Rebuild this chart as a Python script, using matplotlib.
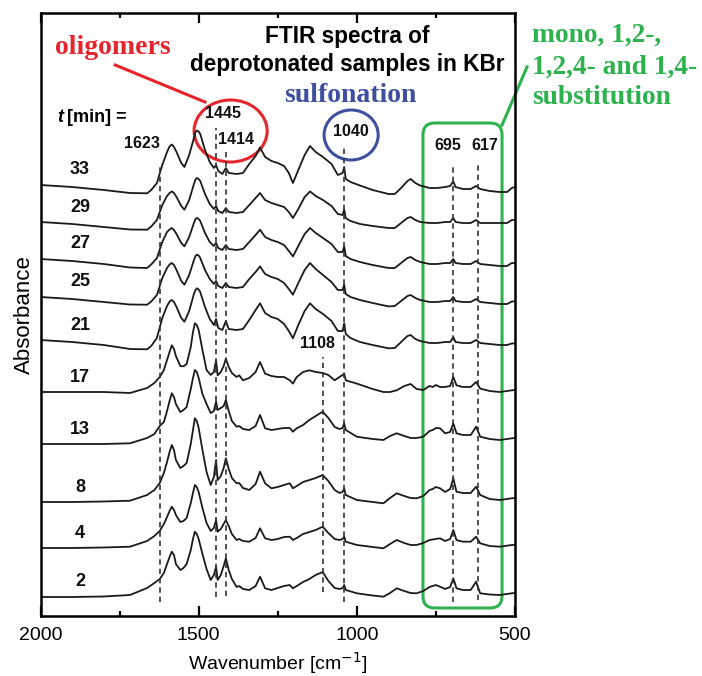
import matplotlib
matplotlib.use("Agg")
import matplotlib.pyplot as plt
from matplotlib.patches import Ellipse, FancyBboxPatch
from matplotlib.lines import Line2D

plt.rcParams['font.family'] = ['Liberation Sans', 'DejaVu Sans']

# ---------------- data ----------------
times = [33, 29, 27, 25, 21, 17, 13, 8, 4, 2]
offsets = [4.31, 3.94, 3.57, 3.19, 2.76, 2.24, 1.72, 1.14, 0.68, 0.19]

# wavenumber grid for the late-time spectra (33-21 min)
wn_late = [2000, 1900, 1800, 1717, 1663, 1650, 1632, 1615, 1600, 1592, 1585, 1578, 1570,
           1555, 1545, 1530, 1515, 1510, 1505, 1500, 1495, 1480, 1465, 1452, 1445, 1438,
           1425, 1414, 1405, 1380, 1360, 1340, 1320, 1306, 1290, 1270, 1250, 1230, 1215,
           1202, 1185, 1165, 1148, 1130, 1107, 1080, 1060, 1045, 1040, 1035, 1020, 990, 950,
           900, 880, 860, 840, 830, 815, 800, 770, 746, 720, 705, 695, 688, 665, 640, 623,
           610, 580, 548, 525, 510, 500]

abs_33 = [0, -0.02, -0.05, -0.08, -0.083, -0.05, 0.02, 0.20, 0.33, 0.385, 0.405, 0.38, 0.33,
          0.22, 0.18, 0.30, 0.47, 0.53, 0.545, 0.535, 0.51, 0.35, 0.23, 0.17, 0.20, 0.14,
          0.11, 0.17, 0.12, 0.11, 0.12, 0.21, 0.29, 0.375, 0.28, 0.24, 0.22, 0.19, 0.12,
          0.02, 0.15, 0.30, 0.39, 0.33, 0.28, 0.21, 0.10, 0.12, 0.18, 0.06, 0.03, -0.005,
          -0.05, -0.09, -0.09, -0.03, 0.04, 0.06, 0.02, -0.005, -0.03, -0.03, -0.02, -0.01,
          0.035, -0.02, -0.04, -0.04, -0.01, -0.04, -0.06, -0.07, -0.07, -0.03, -0.02]
abs_29 = [0, -0.02, -0.05, -0.075, -0.077, -0.045, 0.02, 0.17, 0.26, 0.29, 0.306, 0.29,
          0.25, 0.16, 0.123, 0.22, 0.38, 0.425, 0.44, 0.43, 0.41, 0.28, 0.18, 0.13, 0.16,
          0.11, 0.09, 0.14, 0.10, 0.09, 0.10, 0.17, 0.24, 0.29, 0.22, 0.19, 0.17, 0.15,
          0.10, 0.04, 0.13, 0.25, 0.306, 0.26, 0.22, 0.16, 0.08, 0.07, 0.123, 0.04, 0.01,
          -0.02, -0.04, -0.06, -0.06, -0.01, 0.04, 0.05, 0.02, 0.0, -0.01, -0.01, 0.0, 0.0,
          0.04, 0.0, -0.01, -0.01, 0.02, -0.01, -0.01, -0.01, -0.01, 0.02, 0.02]
abs_27 = [0, -0.02, -0.05, -0.085, -0.09, -0.055, 0.01, 0.17, 0.27, 0.295, 0.31, 0.29,
          0.25, 0.16, 0.126, 0.22, 0.36, 0.40, 0.41, 0.40, 0.38, 0.26, 0.17, 0.13, 0.16,
          0.11, 0.09, 0.14, 0.10, 0.09, 0.10, 0.17, 0.24, 0.293, 0.22, 0.19, 0.17, 0.14,
          0.08, 0.026, 0.13, 0.25, 0.31, 0.26, 0.21, 0.15, 0.07, 0.07, 0.126, 0.03, 0.0,
          -0.03, -0.06, -0.09, -0.09, -0.04, 0.01, 0.02, -0.01, -0.03, -0.05, -0.05, -0.04,
          -0.04, 0.0, -0.04, -0.05, -0.05, -0.02, -0.05, -0.06, -0.07, -0.07, -0.04, -0.04]
abs_25 = [0, -0.02, -0.05, -0.075, -0.077, -0.045, 0.02, 0.19, 0.29, 0.325, 0.34, 0.32,
          0.27, 0.16, 0.123, 0.22, 0.37, 0.41, 0.423, 0.415, 0.39, 0.27, 0.18, 0.13, 0.16,
          0.11, 0.09, 0.14, 0.10, 0.09, 0.10, 0.18, 0.25, 0.306, 0.23, 0.20, 0.18, 0.14,
          0.08, 0.023, 0.14, 0.27, 0.34, 0.28, 0.22, 0.15, 0.07, 0.07, 0.123, 0.03, 0.0,
          -0.03, -0.06, -0.094, -0.09, -0.04, 0.01, 0.02, -0.01, -0.03, -0.05, -0.05, -0.04,
          -0.04, 0.0, -0.04, -0.05, -0.05, -0.02, -0.05, -0.06, -0.07, -0.07, -0.045, -0.044]
abs_21 = [0, -0.02, -0.05, -0.09, -0.093, -0.06, 0.02, 0.22, 0.34, 0.385, 0.40, 0.38, 0.33,
          0.22, 0.183, 0.29, 0.46, 0.50, 0.517, 0.505, 0.48, 0.33, 0.21, 0.15, 0.21, 0.12,
          0.10, 0.19, 0.11, 0.10, 0.11, 0.20, 0.30, 0.367, 0.27, 0.23, 0.21, 0.16, 0.09,
          0.017, 0.15, 0.29, 0.367, 0.31, 0.26, 0.19, 0.09, 0.09, 0.167, 0.06, 0.02, -0.02,
          -0.05, -0.083, -0.08, -0.02, 0.04, 0.05, 0.01, -0.01, -0.03, -0.03, -0.02, -0.02,
          0.03, -0.02, -0.03, -0.03, 0.0, -0.03, -0.04, -0.05, -0.05, -0.035, -0.033]

# wavenumber grid for the early-time spectra (17-2 min)
wn_early = [2000, 1900, 1800, 1717, 1663, 1640, 1623, 1610, 1600, 1592, 1585, 1578, 1572,
            1558, 1548, 1538, 1525, 1518, 1512, 1506, 1500, 1488, 1475, 1462, 1452, 1445,
            1440, 1430, 1421, 1414, 1405, 1395, 1380, 1372, 1360, 1340, 1320, 1306, 1290,
            1270, 1250, 1230, 1212, 1202, 1190, 1170, 1150, 1130, 1108, 1090, 1070, 1055,
            1045, 1040, 1035, 1000, 950, 916, 895, 874, 850, 830, 811, 790, 770, 760, 750,
            737, 721, 705, 695, 685, 665, 640, 623, 610, 580, 548, 510, 500]

abs_17 = [0, 0, 0, -0.01, 0.04, 0.09, 0.15, 0.22, 0.32, 0.40, 0.467, 0.43, 0.36, 0.26,
          0.257, 0.28, 0.45, 0.60, 0.687, 0.67, 0.62, 0.42, 0.22, 0.17, 0.20, 0.317, 0.167,
          0.20, 0.26, 0.333, 0.25, 0.19, 0.15, 0.167, 0.117, 0.14, 0.20, 0.30, 0.184, 0.16,
          0.15, 0.15, 0.117, 0.084, 0.15, 0.20, 0.217, 0.20, 0.19, 0.17, 0.117, 0.15, 0.17,
          0.184, 0.117, 0.084, 0.03, 0.0, 0.0, 0.017, 0.06, 0.08, 0.03, 0.02, 0.06, 0.05,
          0.07, 0.05, 0.05, 0.06, 0.15, 0.067, 0.05, 0.05, 0.10, 0.034, 0.01, 0.0, 0.017,
          0.02]
abs_13 = [0, 0, 0, 0.007, 0.06, 0.10, 0.18, 0.22, 0.33, 0.43, 0.507, 0.47, 0.40, 0.32,
          0.34, 0.37, 0.55, 0.66, 0.74, 0.72, 0.66, 0.50, 0.40, 0.31, 0.33, 0.423, 0.34,
          0.36, 0.38, 0.44, 0.33, 0.23, 0.173, 0.18, 0.15, 0.14, 0.18, 0.29, 0.157, 0.14,
          0.15, 0.16, 0.16, 0.123, 0.157, 0.19, 0.24, 0.28, 0.323, 0.26, 0.17, 0.15, 0.16,
          0.207, 0.14, 0.073, 0.05, 0.04, 0.08, 0.107, 0.08, 0.06, 0.06, 0.073, 0.13, 0.14,
          0.16, 0.157, 0.107, 0.12, 0.207, 0.107, 0.09, 0.09, 0.173, 0.073, 0.05, 0.04,
          0.057, 0.06]
abs_8 = [0, 0, 0.005, 0.013, 0.07, 0.12, 0.19, 0.29, 0.40, 0.50, 0.57, 0.52, 0.42, 0.34,
         0.36, 0.39, 0.58, 0.72, 0.837, 0.81, 0.74, 0.52, 0.30, 0.17, 0.25, 0.42, 0.22, 0.26,
         0.34, 0.437, 0.33, 0.24, 0.187, 0.19, 0.14, 0.12, 0.18, 0.303, 0.187, 0.137, 0.15,
         0.17, 0.187, 0.137, 0.16, 0.20, 0.22, 0.24, 0.27, 0.21, 0.12, 0.09, 0.10, 0.137,
         0.07, 0.02, 0.0, -0.013, 0.04, 0.087, 0.06, 0.04, 0.037, 0.06, 0.12, 0.13, 0.15,
         0.137, 0.10, 0.13, 0.237, 0.103, 0.09, 0.09, 0.153, 0.07, 0.03, 0.02, 0.037, 0.04]
abs_4 = [0, 0, 0.005, 0.013, 0.07, 0.12, 0.17, 0.24, 0.31, 0.37, 0.413, 0.38, 0.33, 0.26,
         0.27, 0.30, 0.45, 0.55, 0.63, 0.61, 0.56, 0.40, 0.25, 0.17, 0.20, 0.28, 0.163,
         0.19, 0.24, 0.28, 0.22, 0.14, 0.08, 0.09, 0.07, 0.063, 0.10, 0.197, 0.097, 0.08,
         0.09, 0.11, 0.113, 0.08, 0.10, 0.14, 0.16, 0.18, 0.213, 0.15, 0.09, 0.08, 0.09,
         0.113, 0.063, 0.03, 0.01, -0.003, 0.04, 0.08, 0.05, 0.03, 0.03, 0.05, 0.08, 0.085,
         0.09, 0.097, 0.07, 0.09, 0.18, 0.08, 0.063, 0.063, 0.113, 0.047, 0.02, 0.013, 0.03,
         0.03]
abs_2 = [0, 0, 0.005, 0.02, 0.09, 0.14, 0.18, 0.24, 0.33, 0.40, 0.453, 0.42, 0.33, 0.27,
         0.29, 0.33, 0.47, 0.58, 0.653, 0.63, 0.58, 0.43, 0.28, 0.17, 0.22, 0.303, 0.17,
         0.22, 0.31, 0.387, 0.27, 0.18, 0.10, 0.11, 0.08, 0.07, 0.11, 0.203, 0.087, 0.07,
         0.09, 0.11, 0.12, 0.087, 0.11, 0.15, 0.18, 0.22, 0.25, 0.16, 0.09, 0.08, 0.09,
         0.12, 0.07, 0.037, 0.015, 0.003, 0.04, 0.087, 0.06, 0.04, 0.037, 0.06, 0.10, 0.11,
         0.12, 0.103, 0.08, 0.10, 0.187, 0.087, 0.07, 0.07, 0.153, 0.037, 0.025, 0.02,
         0.037, 0.04]

spectra = [(wn_late, abs_33), (wn_late, abs_29), (wn_late, abs_27), (wn_late, abs_25),
           (wn_late, abs_21), (wn_early, abs_17), (wn_early, abs_13), (wn_early, abs_8),
           (wn_early, abs_4), (wn_early, abs_2)]

# marked bands: position, label, dashed-line extent (absorbance axis)
bands = [1623, 1445, 1414, 1108, 1040, 695, 617]
band_labels = ['1623', '1445', '1414', '1108', '1040', '695', '617']
band_y0 = [0.14, 0.19, 0.20, 0.24, 0.14, 0.14, 0.16]
band_y1 = [4.51, 4.88, 4.64, 2.59, 4.71, 4.51, 4.53]
band_label_x = [1679, 1423, 1382, 1123, 1018, 712, 595]
band_label_y = [4.73, 5.03, 4.76, 2.73, 4.84, 4.71, 4.71]

# ---------------- figure ----------------
W, H = 702, 676
fig = plt.figure(figsize=(W / 100, H / 100), dpi=100)
ax = fig.add_axes([40.5 / W, 60 / H, 474.5 / W, 603 / H])

for (wn, a), off in zip(spectra, offsets):
    ax.plot(wn, [v + off for v in a], color='#1a1a1a', lw=1.3,
            solid_joinstyle='round', solid_capstyle='round')

for t, off in zip(times, offsets):
    ax.text(1875, off + 0.15, str(t), ha='center', va='center', fontsize=13,
            fontweight='bold', color='#111111')

for b, y0, y1 in zip(bands, band_y0, band_y1):
    ax.plot([b, b], [y0, y1], color='#333333', lw=1.2, ls=(0, (3.2, 2.4)))

for lab, lx, ly in zip(band_labels, band_label_x, band_label_y):
    ax.text(lx, ly, lab, ha='center', va='center', fontsize=11.5, fontweight='bold',
            color='#111111')

ax.text(1948, 4.99, 't', ha='left', va='center', fontsize=13, fontweight='bold',
        style='italic')
ax.text(1915, 4.99, '[min] =', ha='left', va='center', fontsize=13, fontweight='bold')

ax.text(1030, 5.79, 'FTIR spectra of', ha='center', va='center', fontsize=16.3,
        fontweight='bold')
ax.text(1030, 5.52, 'deprotonated samples in KBr', ha='center', va='center',
        fontsize=16.3, fontweight='bold')

red = '#e5252c'
blue = '#3f4fa0'
green = '#2db24e'

ax.add_patch(Ellipse((1399, 4.85), 231, 0.62, fill=False, ec=red, lw=2.2))
ax.add_line(Line2D([1764, 1480], [5.51, 5.14], color=red, lw=2.2))
ax.text(1770, 5.69, 'oligomers', ha='center', va='center', fontsize=20,
        fontweight='bold', family='Liberation Serif', color=red)

ax.add_patch(Ellipse((1018, 4.81), 171, 0.50, fill=False, ec=blue, lw=2.2))
ax.text(1022, 5.21, 'sulfonation', ha='center', va='center', fontsize=20,
        fontweight='bold', family='Liberation Serif', color=blue)

aspect = 0.01 / (1 / 0.31633)
ax.add_patch(FancyBboxPatch((541, 0.08), 250, 4.85,
                            boxstyle='round,pad=0,rounding_size=38',
                            mutation_aspect=aspect, fill=False, ec=green, lw=2.2))
ax.add_line(Line2D([541, 462], [4.91, 5.49], color=green, lw=2.2, clip_on=False))
for line, y in zip(['mono, 1,2-,', '1,2,4- and 1,4-', 'substitution'], [5.81, 5.49, 5.18]):
    ax.text(446, y, line, ha='left', va='center', fontsize=19.8, fontweight='bold',
            family='Liberation Serif', color=green, clip_on=False)

ax.set_xlim(2000, 500)
ax.set_ylim(0, 6.03)
ax.set_xticks([2000, 1500, 1000, 500])
ax.set_xticks([1750, 1250, 750], minor=True)
ax.set_yticks([])
ax.tick_params(axis='x', which='both', direction='in', top=True, bottom=True,
               width=1.6, labelsize=14, pad=8)
ax.tick_params(axis='x', which='major', length=7)
ax.tick_params(axis='x', which='minor', length=3.5)
for s in ax.spines.values():
    s.set_linewidth(1.8)
ax.set_xlabel('Wavenumber [cm$^{-1}$]', fontsize=14, labelpad=4)
ax.set_ylabel('Absorbance', fontsize=16, labelpad=4)

fig.savefig('out.png', dpi=100)
